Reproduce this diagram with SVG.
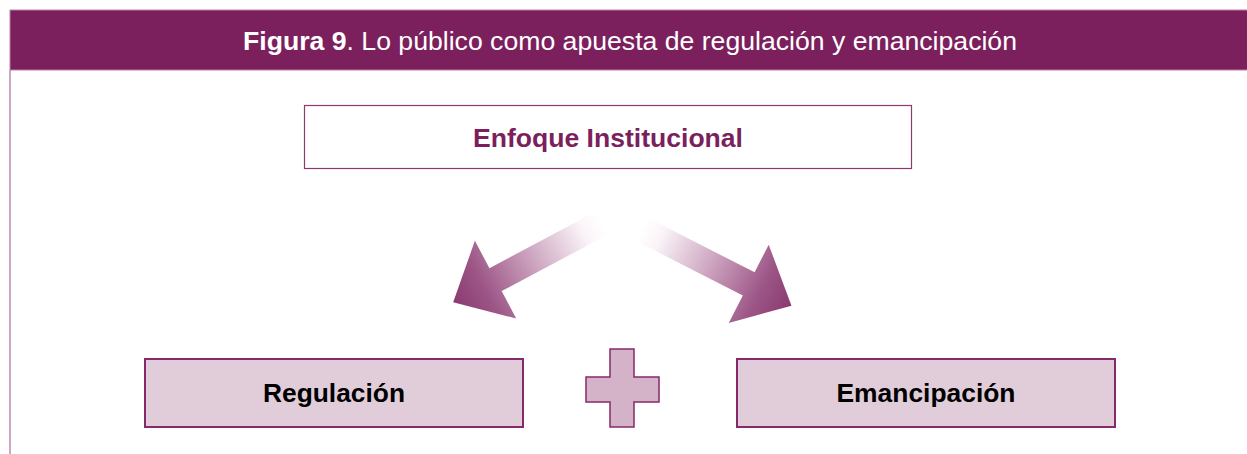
<svg xmlns="http://www.w3.org/2000/svg" width="1247" height="454" viewBox="0 0 1247 454">
<style>
  .hdr { font-family: "Liberation Sans", Arial, sans-serif; font-size: 25px; fill: #ffffff; }
  .lbl { font-family: "Liberation Sans", Arial, sans-serif; font-size: 25px; font-weight: bold; text-anchor: middle; }
  .box { fill: #e0cdd9; stroke: #85296a; stroke-width: 2; }
</style>
<defs>
  <linearGradient id="arrowGrad" gradientUnits="userSpaceOnUse" x1="0" y1="0" x2="168" y2="0">
    <stop offset="0" stop-color="#ffffff"/>
    <stop offset="0.12" stop-color="#faf4f8"/>
    <stop offset="0.45" stop-color="#cfa8c2"/>
    <stop offset="0.8" stop-color="#9c5586"/>
    <stop offset="1" stop-color="#8a3a70"/>
  </linearGradient>
  <polygon id="arrowShape" points="0,-13 120,-13 120,-44 168,0 120,44 120,13 0,13"/>
</defs>
<rect width="1247" height="454" fill="#ffffff"/>
<g id="frame">
  <line x1="10" y1="70" x2="10" y2="454" stroke="#cfa6c6" stroke-width="2"/>
  <rect x="10" y="10" width="1240" height="60" fill="#7b1f5d" stroke="#b782ab" stroke-width="1"/>
  <text class="hdr" x="630" y="50" text-anchor="middle" textLength="774" lengthAdjust="spacingAndGlyphs"><tspan font-weight="bold">Figura 9</tspan>. Lo público como apuesta de regulación y emancipación</text>
</g>
<g id="node-enfoque">
  <rect x="304.5" y="105.5" width="607" height="63" fill="#ffffff" stroke="#8c3a72" stroke-width="1.2"/>
  <text class="lbl" x="608" y="147" fill="#7b1f5d" textLength="270" lengthAdjust="spacingAndGlyphs">Enfoque Institucional</text>
</g>
<g id="connectors">
  <use href="#arrowShape" fill="url(#arrowGrad)" transform="translate(601.5,223.3) rotate(152)"/>
  <use href="#arrowShape" fill="url(#arrowGrad)" transform="translate(641.8,229.4) rotate(27)"/>
</g>
<g id="node-regulacion">
  <rect class="box" x="145" y="359" width="378" height="68"/>
  <text class="lbl" x="334" y="402" fill="#000000" textLength="142" lengthAdjust="spacingAndGlyphs">Regulación</text>
</g>
<g id="node-plus">
  <polygon points="610,349 634,349 634,377 659,377 659,402 634,402 634,427 610,427 610,402 586,402 586,377 610,377" fill="#d4b3c9" stroke="#85296a" stroke-width="1.5"/>
</g>
<g id="node-emancipacion">
  <rect class="box" x="737" y="359" width="378" height="68"/>
  <text class="lbl" x="926" y="402" fill="#000000" textLength="179" lengthAdjust="spacingAndGlyphs">Emancipación</text>
</g>
</svg>
